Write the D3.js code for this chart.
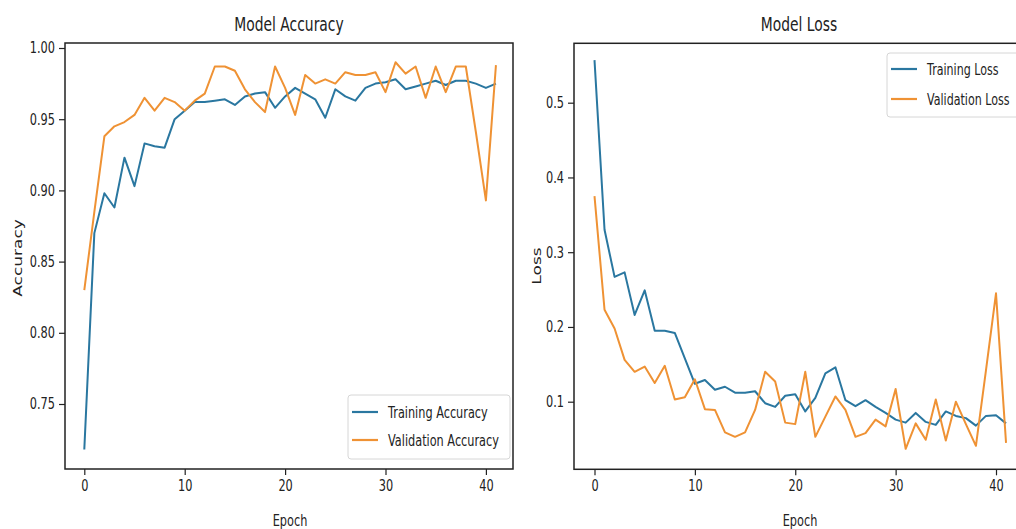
<!DOCTYPE html>
<html><head><meta charset="utf-8">
<script src="https://cdn.jsdelivr.net/npm/d3@7/dist/d3.min.js"></script>
<style>html,body{margin:0;padding:0;background:#fff;overflow:hidden}</style>
</head><body><svg id="c" width="1016" height="529"></svg>
<script>
const trainAcc = [0.718,0.870,0.898,0.888,0.923,0.903,0.933,0.931,0.930,0.950,0.956,0.962,0.962,0.963,0.964,0.960,0.966,0.968,0.969,0.958,0.966,0.972,0.968,0.964,0.951,0.971,0.966,0.963,0.972,0.975,0.976,0.978,0.971,0.973,0.975,0.977,0.974,0.977,0.977,0.975,0.972,0.975];
const valAcc = [0.830,0.885,0.938,0.945,0.948,0.953,0.965,0.956,0.965,0.962,0.956,0.963,0.968,0.987,0.987,0.984,0.971,0.962,0.955,0.987,0.972,0.953,0.981,0.975,0.978,0.975,0.983,0.981,0.981,0.983,0.969,0.990,0.982,0.987,0.965,0.987,0.969,0.987,0.987,0.941,0.893,0.988];
const trainLoss = [0.557,0.330,0.267,0.273,0.216,0.249,0.195,0.195,0.192,0.158,0.124,0.129,0.116,0.120,0.112,0.112,0.114,0.098,0.093,0.108,0.110,0.087,0.105,0.138,0.146,0.102,0.094,0.102,0.093,0.085,0.076,0.072,0.085,0.073,0.069,0.087,0.081,0.078,0.068,0.081,0.082,0.071];
const valLoss = [0.375,0.223,0.198,0.156,0.140,0.147,0.125,0.148,0.103,0.106,0.130,0.090,0.089,0.059,0.053,0.059,0.089,0.140,0.127,0.072,0.070,0.140,0.053,0.080,0.107,0.089,0.053,0.058,0.076,0.067,0.117,0.037,0.071,0.049,0.103,0.048,0.100,0.070,0.041,0.142,0.245,0.045];
const xTicks = [0,10,20,30,40];
const accTicks = [0.75,0.80,0.85,0.90,0.95,1.00];
const lossTicks = [0.1,0.2,0.3,0.4,0.5];
const titles = ["Model Accuracy","Model Loss"];
const yLabels = ["Accuracy","Loss"];
const xLabel = "Epoch";
const accLegend = ["Training Accuracy","Validation Accuracy"];
const lossLegend = ["Training Loss","Validation Loss"];

const BLUE = "#2a77a0", ORANGE = "#ef9234", K = 0.73, FONT = "DejaVu Sans";
const svg = d3.select("#c");

function squeeze(sel){
  sel.each(function(){
    const L = this.getComputedTextLength();
    this.setAttribute("textLength", L*K);
    this.setAttribute("lengthAdjust","spacingAndGlyphs");
  });
}
// horizontally condensed text placed through a transform
function htext(g, x, y, str, size, anchor){
  return g.append("text").attr("transform",`translate(${x},${y}) scale(${K},1)`)
    .attr("text-anchor",anchor||"start").attr("font-family",FONT).attr("font-size",size)
    .attr("fill","#222").text(str);
}

function panel(o){
  const g = svg.append("g");
  const x = d3.scaleLinear().domain([0,40]).range(o.xr);
  const y = d3.scaleLinear().domain(o.yd).range(o.yr);
  const f = o.frame;
  const ya = g.append("g").attr("transform",`translate(${f.l},0)`)
    .call(d3.axisLeft(y).tickValues(o.yt).tickFormat(o.fmt).tickSize(6).tickPadding(4));
  const xa = g.append("g").attr("transform",`translate(0,${f.b})`)
    .call(d3.axisBottom(x).tickValues(xTicks).tickFormat(d3.format("d")).tickSize(6).tickPadding(5));
  [ya,xa].forEach(a=>{
    a.select(".domain").remove();
    a.selectAll("line").attr("stroke","#222").attr("stroke-width",1.2);
    a.selectAll("text").attr("font-family",FONT).attr("font-size",15.5).attr("fill","#222").call(squeeze);
  });
  const line = d3.line().x((d,i)=>x(i)).y(d=>y(d));
  o.series.forEach((s,i)=>{
    g.append("path").datum(s).attr("d",line).attr("fill","none")
      .attr("stroke",i?ORANGE:BLUE).attr("stroke-width",2).attr("stroke-linejoin","round");
  });
  g.append("rect").attr("x",f.l).attr("y",f.t).attr("width",f.r-f.l).attr("height",f.b-f.t)
    .attr("fill","none").attr("stroke","#222").attr("stroke-width",1.5);
  htext(g, o.tx, 31, o.title, 19, "middle");
  htext(g, o.ex, 526, xLabel, 15.5, "middle");
  g.append("text").attr("transform",`translate(${o.ylx},${o.yly}) scale(${K},1) rotate(-90)`)
    .attr("text-anchor","middle").attr("font-family",FONT).attr("font-size",17).attr("fill","#222").text(o.ylab);
  // legend
  const L = o.leg;
  g.append("rect").attr("x",L.x).attr("y",L.y).attr("width",L.w).attr("height",L.h).attr("rx",3)
    .attr("fill","#fff").attr("fill-opacity",0.85).attr("stroke","#d6d6d6").attr("stroke-width",1);
  o.legText.forEach((t,i)=>{
    const cy = L.y + L.first + i*L.gap;
    g.append("line").attr("x1",L.x+4).attr("x2",L.x+30).attr("y1",cy).attr("y2",cy)
      .attr("stroke",i?ORANGE:BLUE).attr("stroke-width",2.2);
    htext(g, L.x+40, cy+5.5, t, L.fs);
  });
}

panel({xr:[84.3,485.9], yd:[0.75,1.00], yr:[404,48], yt:accTicks, fmt:d3.format(".2f"),
  frame:{l:65,r:513,t:43,b:469}, series:[trainAcc,valAcc], title:titles[0], tx:289, ex:290,
  ylab:yLabels[0], ylx:22, yly:258, legText:accLegend,
  leg:{x:348,y:395,w:162,h:64,first:17,gap:28,fs:15.5}});
panel({xr:[594.5,996], yd:[0.1,0.5], yr:[401.7,102.7], yt:lossTicks, fmt:d3.format(".1f"),
  frame:{l:574,r:1027,t:43.3,b:469.3}, series:[trainLoss,valLoss], title:titles[1], tx:799, ex:800,
  ylab:yLabels[1], ylx:541, yly:266, legText:lossLegend,
  leg:{x:887,y:53,w:150,h:64,first:16,gap:30,fs:15.2}});
</script></body></html>
